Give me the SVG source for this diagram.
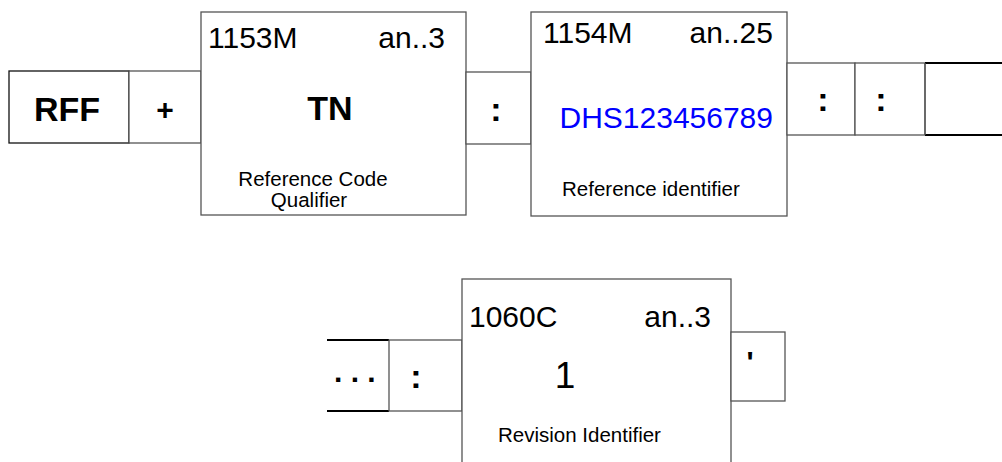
<svg xmlns="http://www.w3.org/2000/svg" width="1002" height="462" viewBox="0 0 1002 462">
<style>
.bx{fill:#fff;stroke:#555;stroke-width:1.3}
.bk{fill:#fff;stroke:#111;stroke-width:1.3}
.open{stroke:#000;stroke-width:2;fill:none}
text{font-family:"Liberation Sans",Arial,sans-serif;fill:#000}
.big{font-size:30px}
.bold{font-size:30px;font-weight:bold}
.col{font-size:34px;font-weight:bold}
.tn{font-size:34px;font-weight:bold}
.sm{font-size:20.5px}
.blue{fill:#0000ff}
</style>
<rect width="1002" height="462" fill="#fff"/>
<g id="rff">
<rect class="bk" x="9" y="71" width="120" height="72"/>
<text class="tn" x="67" y="121" text-anchor="middle">RFF</text>
</g>
<g id="plus">
<rect class="bx" x="129" y="71" width="72" height="72"/>
<text class="bold" x="165" y="120" text-anchor="middle">+</text>
</g>
<g id="e1153">
<rect class="bx" x="201" y="12" width="265" height="203"/>
<text class="big" x="208" y="48">1153M</text>
<text class="big" x="445" y="48" text-anchor="end">an..3</text>
<text class="tn" x="330" y="120" text-anchor="middle">TN</text>
<text class="sm" x="313" y="186" text-anchor="middle">Reference Code</text>
<text class="sm" x="309" y="207" text-anchor="middle">Qualifier</text>
</g>
<g id="colon1">
<rect class="bx" x="466" y="72" width="65" height="72"/>
<text class="col" x="496" y="121" text-anchor="middle">:</text>
</g>
<g id="e1154">
<rect class="bx" x="531" y="12" width="256" height="204"/>
<text class="big" x="543" y="43">1154M</text>
<text class="big" x="773" y="43" text-anchor="end">an..25</text>
<text class="big blue" x="773" y="128" text-anchor="end">DHS123456789</text>
<text class="sm" x="562" y="196">Reference identifier</text>
</g>
<g id="colon2">
<rect class="bx" x="787" y="63" width="68" height="72"/>
<text class="col" x="823" y="111" text-anchor="middle">:</text>
</g>
<g id="colon3">
<rect class="bx" x="855" y="63" width="70" height="72"/>
<text class="col" x="881" y="111" text-anchor="middle">:</text>
</g>
<g id="openRight">
<line class="open" x1="925" y1="63" x2="1002" y2="63"/>
<line class="open" x1="925" y1="135" x2="1002" y2="135"/>
<line x1="925" y1="63" x2="925" y2="135" stroke="#555" stroke-width="1.3"/>
</g>
<g id="openLeft">
<line class="open" x1="327" y1="340" x2="389" y2="340"/>
<line class="open" x1="327" y1="411" x2="389" y2="411"/>
<text class="bold" x="334" y="382">. . .</text>
</g>
<g id="colon4">
<rect class="bx" x="389" y="340" width="73" height="71"/>
<text class="col" x="416" y="388" text-anchor="middle">:</text>
</g>
<g id="e1060">
<rect class="bx" x="462" y="279" width="269" height="200"/>
<text class="big" x="469" y="327">1060C</text>
<text class="big" x="711" y="327" text-anchor="end">an..3</text>
<text x="565" y="388" text-anchor="middle" font-size="37">1</text>
<text class="sm" x="498" y="442">Revision Identifier</text>
</g>
<g id="term">
<rect class="bx" x="731" y="332" width="54" height="69"/>
<text class="bold" x="750" y="372" text-anchor="middle">'</text>
</g>
<g id="connectors"></g>
</svg>
